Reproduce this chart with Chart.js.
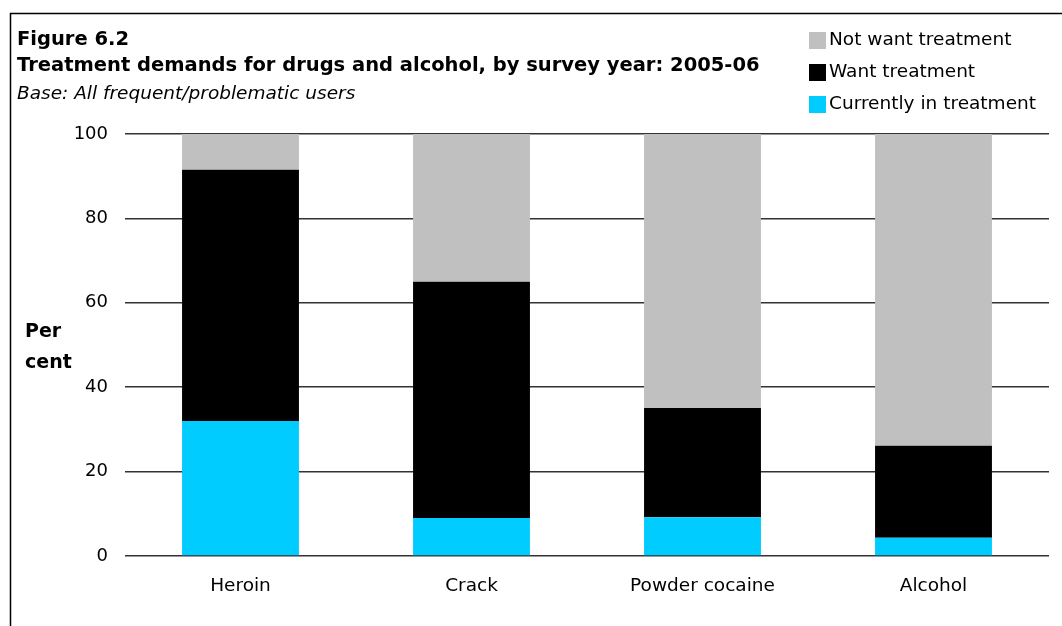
<!DOCTYPE html>
<html>
<head>
<meta charset="utf-8">
<script src="https://cdn.jsdelivr.net/npm/chart.js@4/dist/chart.umd.min.js"></script>
<style>
  html, body { margin: 0; padding: 0; background: #fff; }
  #wrap { width: 1062px; height: 626px; }
</style>
</head>
<body>
<div id="wrap"><canvas id="grafik" width="1062" height="626"></canvas></div>
<script>
const kategoriler = ['Heroin', 'Crack', 'Powder cocaine', 'Alcohol'];
const tedavide = [32, 9, 9.2, 4.3];
const istiyor = [59.5, 56, 25.9, 21.8];
const istemiyor = [8.5, 35, 64.9, 73.9];
const yEtiketleri = [0, 20, 40, 60, 80, 100];

const FONT = "'DejaVu Sans', sans-serif";

// frame, titles, "Per cent" and legend are drawn by hand
const ekstra = {
    id: 'ekstra',
    afterDraw(chart) {
        const c = chart.ctx;
        c.save();
        c.strokeStyle = '#000';
        c.lineWidth = 1.5;
        c.beginPath();
        c.moveTo(10.5, 626);
        c.lineTo(10.5, 13.5);
        c.lineTo(1062, 13.5);
        c.stroke();

        c.fillStyle = '#000';
        c.textBaseline = 'alphabetic';
        c.textAlign = 'left';
        c.font = 'bold 19.5px ' + FONT;
        c.fillText('Figure 6.2', 17, 45);
        c.fillText('Treatment demands for drugs and alcohol, by survey year: 2005-06', 17, 71);
        c.font = 'italic 18.5px ' + FONT;
        c.fillText('Base: All frequent/problematic users', 17, 99);

        c.font = 'bold 19px ' + FONT;
        c.fillText('Per', 25, 337);
        c.fillText('cent', 25, 368);

        // legend, top item is the top of the stack
        const ds = chart.data.datasets.slice().reverse();
        c.font = '18.5px ' + FONT;
        c.textBaseline = 'middle';
        ds.forEach((d, i) => {
            const y = 40 + i * 32;
            c.fillStyle = d.backgroundColor;
            c.fillRect(809, y - 8, 17, 17);
            c.fillStyle = '#000';
            c.fillText(d.label, 829, y);
        });
        c.restore();
    }
};

const ctx = document.getElementById('grafik').getContext('2d');
new Chart(ctx, {
    type: 'bar',
    data: {
        labels: kategoriler,
        datasets: [
            { label: 'Currently in treatment', data: tedavide, backgroundColor: '#00ccff' },
            { label: 'Want treatment', data: istiyor, backgroundColor: '#000000' },
            { label: 'Not want treatment', data: istemiyor, backgroundColor: '#c0c0c0' }
        ]
    },
    options: {
        responsive: false,
        animation: false,
        layout: { padding: { top: 134, right: 13, left: 0, bottom: 0 } },
        datasets: { bar: { categoryPercentage: 1, barPercentage: 0.506 } },
        plugins: { legend: { display: false }, title: { display: false }, tooltip: { enabled: false } },
        scales: {
            x: {
                stacked: true,
                grid: { display: false, drawTicks: false },
                border: { display: false },
                ticks: { color: '#000', font: { family: FONT, size: 18.5 }, padding: 19 },
                afterFit(s) { s.height = 70; }
            },
            y: {
                stacked: true,
                min: 0,
                max: 100,
                afterBuildTicks(s) { s.ticks = yEtiketleri.map(v => ({ value: v })); },
                grid: { color: '#333', lineWidth: 1.5, drawTicks: false },
                border: { display: false },
                ticks: { color: '#000', font: { family: FONT, size: 18 }, padding: 17 },
                afterFit(s) { s.width = 125; }
            }
        }
    },
    plugins: [ekstra]
});
</script>
</body>
</html>
